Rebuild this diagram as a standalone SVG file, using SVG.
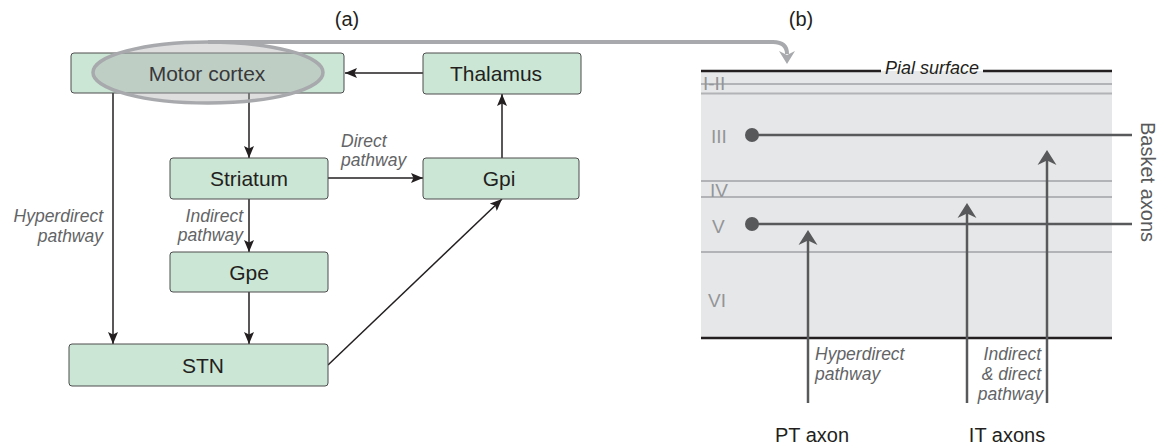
<svg xmlns="http://www.w3.org/2000/svg" width="1157" height="447" viewBox="0 0 1157 447">
<style>
.box{fill:#cbe6d5;stroke:#4d4d4f;stroke-width:1}
.nt{font-family:"Liberation Sans",Arial,sans-serif;font-size:21px;fill:#231f20;text-anchor:middle}
.it{font-family:"Liberation Sans",Arial,sans-serif;font-size:17.5px;font-style:italic;fill:#636466}
.pl{font-family:"Liberation Sans",Arial,sans-serif;font-size:20px;fill:#231f20;text-anchor:middle}
.ll{font-family:"Liberation Sans",Arial,sans-serif;font-size:19px;fill:#939598}
.conn{stroke:#231f20;stroke-width:1.5;fill:none;marker-end:url(#ah)}
.layer{stroke:#b1b3b6;stroke-width:2}
.ax{stroke:#58595b;stroke-width:2.5;fill:none}
.axh{fill:#58595b}
</style>
<defs>
<marker id="ah" viewBox="0 0 12 10" refX="12" refY="5" markerWidth="12" markerHeight="10" markerUnits="userSpaceOnUse" orient="auto">
<path d="M0,0 L12,5 L0,10 L2.5,5 Z" fill="#231f20"/>
</marker>
</defs>
<rect width="1157" height="447" fill="#ffffff"/>
<text class="pl" x="347" y="26">(a)</text>
<text class="pl" x="801" y="26">(b)</text>

<g id="connectors">
<line class="conn" x1="423" y1="73" x2="345" y2="73"/>
<line class="conn" x1="249" y1="93" x2="249" y2="158"/>
<line class="conn" x1="328" y1="178" x2="423" y2="178"/>
<line class="conn" x1="502" y1="158" x2="502" y2="94"/>
<line class="conn" x1="249" y1="199" x2="249" y2="252"/>
<line class="conn" x1="249" y1="292" x2="249" y2="344"/>
<line class="conn" x1="113" y1="93" x2="113" y2="344"/>
<line class="conn" x1="328" y1="365" x2="502" y2="199"/>
</g>

<g id="motor-cortex"><rect class="box" x="71" y="53" width="273" height="40" rx="3"/>
<ellipse cx="208" cy="72.5" rx="115" ry="30.5" fill="#a7a9ac" fill-opacity="0.38" stroke="#a7a9ac" stroke-width="3.5"/>
<text class="nt" x="207" y="81" fill="#3a3a3c" style="fill:#38383a">Motor cortex</text></g>
<g id="thalamus"><rect class="box" x="423" y="53" width="158" height="41" rx="3"/><text class="nt" x="496" y="81">Thalamus</text></g>
<g id="striatum"><rect class="box" x="170" y="158" width="158" height="41" rx="3"/><text class="nt" x="249" y="186">Striatum</text></g>
<g id="gpi"><rect class="box" x="423" y="158" width="156" height="41" rx="3"/><text class="nt" x="499" y="186">Gpi</text></g>
<g id="gpe"><rect class="box" x="170" y="252" width="158" height="40" rx="3"/><text class="nt" x="249" y="280">Gpe</text></g>
<g id="stn"><rect class="box" x="69" y="344" width="259" height="42" rx="3"/><text class="nt" x="203" y="373">STN</text></g>

<g id="labels-a">
<text class="it" x="341" y="147">Direct</text>
<text class="it" x="341" y="166">pathway</text>
<text class="it" x="243" y="222" text-anchor="end">Indirect</text>
<text class="it" x="243" y="241" text-anchor="end">pathway</text>
<text class="it" x="103" y="222" text-anchor="end">Hyperdirect</text>
<text class="it" x="103" y="242" text-anchor="end">pathway</text>
</g>

<g id="highlight-arrow">
<path d="M208,42 H773 Q787,42 787,54" fill="none" stroke="#a7a9ac" stroke-width="4"/>
<path d="M779,51 L787,55 L795,51 L787,64 Z" fill="#a7a9ac"/>
</g>

<g id="cortex">
<rect x="701" y="71" width="411" height="267" fill="#e6e7e8"/>
<line class="layer" x1="701" y1="84" x2="1112" y2="84"/>
<line class="layer" x1="701" y1="93.5" x2="1112" y2="93.5"/>
<line class="layer" x1="701" y1="181" x2="1112" y2="181"/>
<line class="layer" x1="701" y1="197" x2="1112" y2="197"/>
<line class="layer" x1="701" y1="252" x2="1112" y2="252"/>
<line x1="701" y1="71" x2="881" y2="71" stroke="#231f20" stroke-width="2.5"/>
<line x1="983" y1="71" x2="1112" y2="71" stroke="#231f20" stroke-width="2.5"/>
<line x1="701" y1="338" x2="1112" y2="338" stroke="#231f20" stroke-width="2.5"/>
<text x="932" y="74" text-anchor="middle" font-family="Liberation Sans, Arial, sans-serif" font-size="18" font-style="italic" fill="#231f20">Pial surface</text>
<text class="ll" x="703" y="90">I-II</text>
<text class="ll" x="711" y="143">III</text>
<text class="ll" x="710" y="197">IV</text>
<text class="ll" x="712" y="233">V</text>
<text class="ll" x="708" y="307">VI</text>
</g>

<g id="basket-axons">
<circle cx="752" cy="135" r="7" fill="#58595b"/>
<circle cx="752" cy="224" r="7" fill="#58595b"/>
<line class="ax" x1="752" y1="135" x2="1132" y2="135"/>
<line class="ax" x1="752" y1="224" x2="1132" y2="224"/>
<text x="0" y="0" transform="translate(1141,182) rotate(90)" text-anchor="middle" font-family="Liberation Sans, Arial, sans-serif" font-size="20" fill="#58595b">Basket axons</text>
</g>

<g id="pt-axon">
<line class="ax" x1="808" y1="234" x2="808" y2="403"/>
<path class="axh" d="M808,230 L817.5,245 L808,240.5 L798.5,245 Z"/>
<text class="it" x="815" y="360">Hyperdirect</text>
<text class="it" x="815" y="380">pathway</text>
<text class="pl" x="812" y="442">PT axon</text>
</g>

<g id="it-axons">
<line class="ax" x1="967" y1="207" x2="967" y2="403"/>
<path class="axh" d="M967,203 L976.5,218 L967,213.5 L957.5,218 Z"/>
<line class="ax" x1="1047" y1="154" x2="1047" y2="403"/>
<path class="axh" d="M1047,150 L1056.5,165 L1047,160.5 L1037.5,165 Z"/>
<text class="it" x="1041" y="360" text-anchor="end">Indirect</text>
<text class="it" x="1041" y="380" text-anchor="end">&amp; direct</text>
<text class="it" x="1043" y="400" text-anchor="end">pathway</text>
<text class="pl" x="1007" y="442">IT axons</text>
</g>
</svg>
